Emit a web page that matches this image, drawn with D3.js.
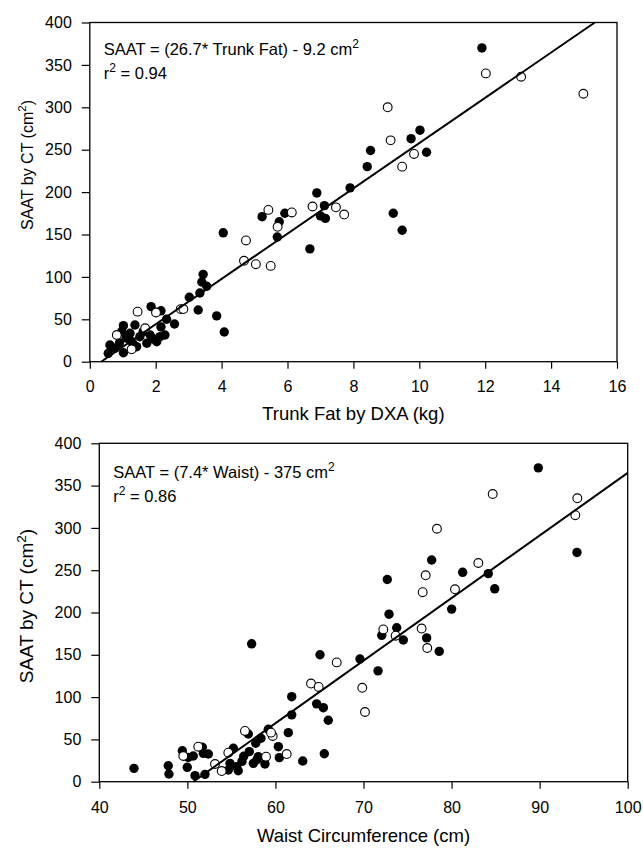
<!DOCTYPE html>
<html><head><meta charset="utf-8">
<script src="https://cdn.jsdelivr.net/npm/d3@7/dist/d3.min.js"></script>
<style>
body{margin:0;background:#fff}
svg{display:block}
text{font-family:"Liberation Sans",Arial,Helvetica,sans-serif;fill:#000}
</style>
</head><body>
<svg id="chart" width="643" height="848"></svg>
<script>
// ---------- DATA ----------
const yTicks = [0, 50, 100, 150, 200, 250, 300, 350, 400];
const topXTicks = [0, 2, 4, 6, 8, 10, 12, 14, 16];
const bottomXTicks = [40, 50, 60, 70, 80, 90, 100];

// Top panel: Trunk Fat by DXA (kg) vs SAAT (cm2)
const topFilled = [
  [11.9,370],[10.02,273],[9.75,263],[8.52,249],[10.22,247],[8.42,230],[7.9,205],[9.21,175],[9.48,155],
  [6.89,199],[7.12,184],[7.0,172],[7.15,169],[5.23,171],[5.92,175],[5.75,165],[5.69,147],[6.68,133],[4.05,152],
  [3.44,103],[3.40,94],[3.55,89],[3.34,81],[3.02,76],[3.29,61],[3.85,54],[4.08,35],
  [1.86,65],[2.16,60],[2.33,50],[2.57,44.5],[2.16,41],[2.28,31.5],[2.03,23.6],[2.13,29.5],
  [1.02,42.5],[0.97,35.4],[1.37,43.3],[1.22,33.5],[1.22,25.6],[1.42,17.7],[1.52,29.5],[1.62,35.4],[1.73,21.7],[1.83,31.5],
  [0.56,9.9],[0.61,19.7],[0.77,15.8],[1.02,10.6],[1.1,28],[1.3,22],[1.92,27],[0.9,22]
];
const topOpen = [
  [12.02,340],[13.09,336],[14.98,316],[9.04,300],[9.13,261],[9.84,245],[9.48,230],
  [6.76,183],[7.47,182],[7.72,173.5],[5.42,179],[6.13,176],[5.70,159],
  [4.74,143],[4.68,119],[5.04,115],[5.49,113],
  [1.45,59],[2.01,58],[2.76,62],[2.84,62],[1.68,39.4],[0.82,31.5],[1.27,14.6]
];
// Bottom panel: Waist Circumference (cm) vs SAAT (cm2)
const bottomFilled = [
  [89.85,371],[94.24,271],[77.74,262],[81.26,247.5],[84.17,246],[72.7,239],[84.9,228],[80.01,204],
  [72.9,198],[72.07,173],[73.77,182],[74.52,167.5],[77.17,170],[78.6,154],[69.6,145],[71.65,131],
  [57.3,163],[65.06,150],[61.85,100.5],[64.68,92],[65.44,87.5],[66.0,72.6],[61.85,79],
  [56.92,56.4],[59.19,62],[58.36,51.3],[57.76,45.4],[61.46,58],[60.33,41.4],[60.44,28.4],[63.1,24.5],[65.55,33],
  [55.22,39.5],[57.03,35.5],[58.05,29.6],[57.49,21.7],[58.81,21],[54.84,21.7],[55.6,17.7],[54.65,13.8],[55.78,13],
  [52,8.7],[50.87,7.1],[49.43,36.6],[50.1,28.8],[50.67,30.4],[49.99,17],[51.7,40.7],[52.38,32.7],[51.81,33.5],
  [47.83,18.9],[47.91,9.1],[43.94,15.8],[56.2,24],[57.9,26],[56.4,30]
];
const bottomOpen = [
  [84.67,340],[94.28,335],[94.05,315],[78.34,299],[77.06,244],[83.04,258.5],[76.72,224],[80.39,227.4],
  [72.25,180],[73.65,172.6],[76.6,181],[77.24,158],[69.86,111],[70.17,82.4],[66.96,141],[64.04,116],[64.91,112],
  [56.54,60],[59.69,54],[59.5,58],[61.28,32.7],[54.65,34.3],[58.93,29.6],[53.14,20.9],[53.9,12.6],[49.54,30.4],[51.24,41.4]
];
// Regression fits (slope, intercept) shown in the equations
const topFit = [26.7, -9.2];
const bottomFit = [7.4, -375];

// ---------- DRAW ----------
const svg = d3.select("#chart");

function panel(cfg) {
  const x = d3.scaleLinear().domain(cfg.xDomain).range([cfg.left, cfg.right]);
  const y = d3.scaleLinear().domain([0, 400]).range([cfg.bottom, cfg.top]);
  const g = svg.append("g");

  const xa = g.append("g").attr("transform", `translate(0,${cfg.bottom})`)
    .call(d3.axisBottom(x).tickValues(cfg.xTicks).tickSize(7).tickSizeOuter(0).tickPadding(cfg.xPad));
  const ya = g.append("g").attr("transform", `translate(${cfg.left},0)`)
    .call(d3.axisLeft(y).tickValues(yTicks).tickSize(8).tickSizeOuter(0).tickPadding(10));
  [xa, ya].forEach(a => {
    a.select(".domain").remove();
    a.selectAll("line").attr("stroke", "#000").attr("stroke-width", 1.2);
    a.selectAll("text").attr("font-size", 16).attr("font-family", '"Liberation Sans",Arial,sans-serif').attr("fill", "#000");
  });

  g.append("rect").attr("x", cfg.left).attr("y", cfg.top)
    .attr("width", cfg.right - cfg.left).attr("height", cfg.bottom - cfg.top)
    .attr("fill", "none").attr("stroke", "#000").attr("stroke-width", 1.3);

  g.append("g").selectAll("circle").data(cfg.filled).join("circle")
    .attr("cx", d => x(d[0])).attr("cy", d => y(d[1])).attr("r", 4.7)
    .attr("fill", "#000");
  g.append("g").selectAll("circle").data(cfg.open).join("circle")
    .attr("cx", d => x(d[0])).attr("cy", d => y(d[1])).attr("r", 4.4)
    .attr("fill", "#fff").attr("stroke", "#000").attr("stroke-width", 1.1);

  const [m, b] = cfg.fit;
  const x0 = Math.max(cfg.xDomain[0], -b / m);
  const x1 = Math.min(cfg.xDomain[1], (400 - b) / m);
  g.append("line")
    .attr("x1", x(x0)).attr("y1", y(m * x0 + b))
    .attr("x2", x(x1)).attr("y2", y(m * x1 + b))
    .attr("stroke", "#000").attr("stroke-width", 2);

  // equation
  const eq = g.append("text").attr("x", cfg.left + cfg.eqDx).attr("y", cfg.top + cfg.eqDy).attr("font-size", 16.5);
  eq.append("tspan").text(cfg.eqText);
  eq.append("tspan").attr("dy", -7).attr("font-size", 12).text("2");
  const r2 = g.append("text").attr("x", cfg.left + cfg.eqDx).attr("y", cfg.top + cfg.eqDy + 24).attr("font-size", 16.5);
  r2.append("tspan").text("r");
  r2.append("tspan").attr("dy", -7).attr("font-size", 12).text("2");
  r2.append("tspan").attr("dy", 7).text(" = " + cfg.r2);

  // axis titles
  g.append("text").attr("x", (cfg.left + cfg.right) / 2).attr("y", cfg.xTitleY)
    .attr("text-anchor", "middle").attr("font-size", 18.5).text(cfg.xTitle);
  const yt = g.append("text").attr("transform", `translate(${cfg.yTitleX},${cfg.yTitleY}) rotate(-90)`)
    .attr("text-anchor", "middle").attr("font-size", cfg.yTitleSize);
  yt.append("tspan").text("SAAT by CT (cm");
  yt.append("tspan").attr("dy", -7).attr("font-size", cfg.yTitleSize * 0.72).text("2");
  yt.append("tspan").attr("dy", 7).text(")");
}

panel({
  left: 89.8, right: 617, top: 22.5, bottom: 361.7,
  xDomain: [0, 16], xTicks: topXTicks, xPad: 12,
  filled: topFilled, open: topOpen, fit: topFit,
  eqText: "SAAT = (26.7* Trunk Fat) - 9.2 cm", r2: "0.94", eqDx: 14, eqDy: 32,
  xTitle: "Trunk Fat by DXA (kg)", xTitleY: 420,
  yTitleX: 33, yTitleY: 165, yTitleSize: 16
});
panel({
  left: 99.3, right: 627.7, top: 443.3, bottom: 781.7,
  xDomain: [40, 100], xTicks: bottomXTicks, xPad: 13,
  filled: bottomFilled, open: bottomOpen, fit: bottomFit,
  eqText: "SAAT = (7.4* Waist) - 375 cm", r2: "0.86", eqDx: 14, eqDy: 35,
  xTitle: "Waist Circumference (cm)", xTitleY: 842,
  yTitleX: 33, yTitleY: 606, yTitleSize: 19
});
</script>
</body></html>
